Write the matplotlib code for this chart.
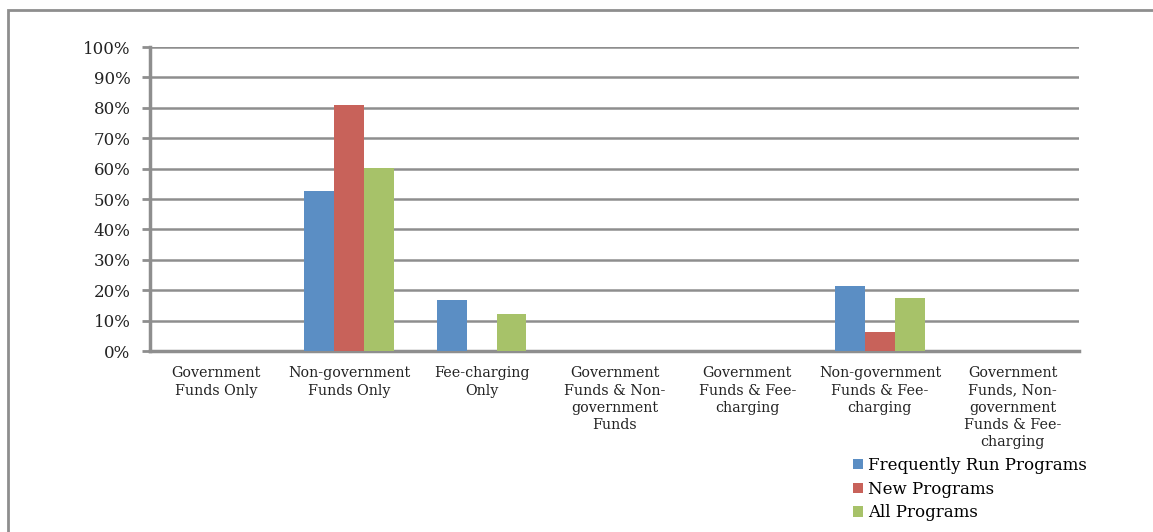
import numpy as np
import matplotlib.pyplot as plt
from matplotlib.patches import Rectangle
from matplotlib.ticker import PercentFormatter

categories = [
    "Government\nFunds Only",
    "Non-government\nFunds Only",
    "Fee-charging\nOnly",
    "Government\nFunds & Non-\ngovernment\nFunds",
    "Government\nFunds & Fee-\ncharging",
    "Non-government\nFunds & Fee-\ncharging",
    "Government\nFunds, Non-\ngovernment\nFunds & Fee-\ncharging",
]
frequent = [0, 52.5, 16.7, 0, 0, 21.5, 0]
new = [0, 81.0, 0, 0, 0, 6.3, 0]
all_programs = [0, 60.3, 12.3, 0, 0, 17.4, 0]

series = [
    ("Frequently Run Programs", frequent, "#5b8ec4"),
    ("New Programs", new, "#c8625a"),
    ("All Programs", all_programs, "#a7c269"),
]

plt.rcParams['font.family'] = ['DejaVu Serif']
fig = plt.figure(figsize=(11.53, 5.32), dpi=100)
ax = fig.add_axes([150 / 1153, 1 - 351 / 532, 929 / 1153, 304 / 532])

x = np.arange(len(categories))
width = 0.224
for i, (name, vals, color) in enumerate(series):
    ax.bar(x + (i - 1) * width, vals, width, color=color, label=name, zorder=3)

grid_color = "#8e8e8e"
ax.set_ylim(0, 100)
ax.set_xlim(-0.5, len(categories) - 0.5)
ax.set_yticks(np.arange(0, 101, 10))
ax.yaxis.set_major_formatter(PercentFormatter(decimals=0))
ax.yaxis.grid(True, color=grid_color, linewidth=1.8, zorder=0)
ax.set_xticks(x)
ax.set_xticklabels(categories, fontsize=10.3, color="#222222", linespacing=1.3)
ax.tick_params(axis='x', length=0, pad=11)
ax.tick_params(axis='y', length=6, width=2, color=grid_color, labelsize=12,
               labelcolor="#222222", pad=8)
for s in ['top', 'right']:
    ax.spines[s].set_visible(False)
ax.spines['left'].set_color(grid_color)
ax.spines['left'].set_linewidth(2.5)
ax.spines['bottom'].set_color(grid_color)
ax.spines['bottom'].set_linewidth(2.5)

ax.legend(loc='upper left', bbox_to_anchor=(853 / 1153, 1 - 457 / 532),
          bbox_transform=fig.transFigure, frameon=False, fontsize=12,
          handlelength=0.6, handleheight=0.6, handletextpad=0.3,
          labelspacing=0.4, borderaxespad=0, borderpad=0)

# outer chart border
fig.patches.append(Rectangle((8 / 1153, -0.05), 1.2, 1 - 10 / 532 + 0.05,
                             transform=fig.transFigure, fill=False,
                             edgecolor=grid_color, linewidth=2))

fig.savefig("out.png", dpi=100)
